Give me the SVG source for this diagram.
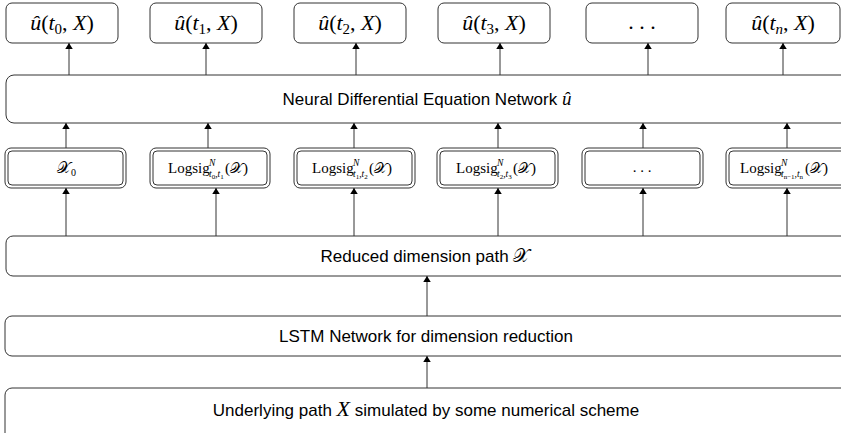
<svg xmlns="http://www.w3.org/2000/svg" width="841" height="433" viewBox="0 0 841 433">
  <style>
    .box { fill: #ffffff; stroke: #333333; stroke-width: 1; }
    .dbl { fill: #ffffff; stroke: #333333; stroke-width: 1; }
    .edge { stroke: #333333; stroke-width: 1; fill: none; marker-end: url(#arrow); }
    .lbl { font-family: "Liberation Sans", Arial, sans-serif; font-size: 17px; fill: #000000; text-anchor: middle; }
    .math { font-family: "Liberation Serif", "DejaVu Serif", serif; font-size: 22px; fill: #000000; text-anchor: middle; }
    .sig { font-family: "Liberation Serif", "DejaVu Serif", serif; font-size: 15px; fill: #000000; }
    .it { font-style: italic; }
    .sub { font-size: 15px; }
    .ss { font-size: 9.5px; font-style: italic; }
    .sss { font-size: 7px; }
    .cal { font-style: normal; }
  </style>
  <defs>
    <marker id="arrow" viewBox="0 0 8 10" refX="8" refY="5" markerWidth="6" markerHeight="7.5" orient="auto" markerUnits="userSpaceOnUse">
      <path d="M0,0 L8,5 L0,10 Z" fill="#000000"/>
    </marker>
  </defs>

  <!-- output layer -->
  <g id="out0"><rect class="box" x="6" y="3" width="112" height="40" rx="6"/>
    <text class="math" x="62" y="30"><tspan class="it">û</tspan>(<tspan class="it">t</tspan><tspan class="sub" dy="4">0</tspan><tspan dy="-4">, </tspan><tspan class="it">X</tspan>)</text></g>
  <g id="out1"><rect class="box" x="150" y="3" width="112" height="40" rx="6"/>
    <text class="math" x="206" y="30"><tspan class="it">û</tspan>(<tspan class="it">t</tspan><tspan class="sub" dy="4">1</tspan><tspan dy="-4">, </tspan><tspan class="it">X</tspan>)</text></g>
  <g id="out2"><rect class="box" x="294" y="3" width="112" height="40" rx="6"/>
    <text class="math" x="350" y="30"><tspan class="it">û</tspan>(<tspan class="it">t</tspan><tspan class="sub" dy="4">2</tspan><tspan dy="-4">, </tspan><tspan class="it">X</tspan>)</text></g>
  <g id="out3"><rect class="box" x="438" y="3" width="112" height="40" rx="6"/>
    <text class="math" x="494" y="30"><tspan class="it">û</tspan>(<tspan class="it">t</tspan><tspan class="sub" dy="4">3</tspan><tspan dy="-4">, </tspan><tspan class="it">X</tspan>)</text></g>
  <g id="out4"><rect class="box" x="586" y="3" width="112" height="40" rx="6"/>
    <text class="math" x="642" y="29">. . .</text></g>
  <g id="outn"><rect class="box" x="726" y="3" width="114" height="40" rx="6"/>
    <text class="math" x="783" y="30"><tspan class="it">û</tspan>(<tspan class="it">t</tspan><tspan class="sub it" dy="4">n</tspan><tspan dy="-4">, </tspan><tspan class="it">X</tspan>)</text></g>

  <!-- neural differential equation network -->
  <g id="nde"><rect class="box" x="6" y="75" width="845" height="48" rx="8"/>
    <text class="lbl" x="427" y="105">Neural Differential Equation Network <tspan font-family="Liberation Serif, serif" font-style="italic" font-size="19">û</tspan></text></g>

  <!-- log-signature layer -->
  <g id="sig0"><rect class="dbl" x="5" y="148" width="121" height="40" rx="6"/><rect class="dbl" x="8" y="151" width="115" height="34" rx="4"/>
    <text class="sig" x="57" y="173"><tspan class="cal" font-size="16">𝒳</tspan><tspan font-size="10" dy="3">0</tspan></text></g>
  <g id="sig1"><rect class="dbl" x="150" y="148" width="120" height="40" rx="6"/><rect class="dbl" x="153" y="151" width="114" height="34" rx="4"/>
    <text class="sig" x="168" y="173">Logsig<tspan class="ss" x="209" y="166">N</tspan><tspan class="ss" x="209" y="177">t</tspan><tspan class="sss" y="179">0</tspan><tspan class="ss" y="177">,t</tspan><tspan class="sss" y="179">1</tspan><tspan x="225" y="173">(</tspan><tspan class="cal">𝒳</tspan>)</text></g>
  <g id="sig2"><rect class="dbl" x="294" y="148" width="121" height="40" rx="6"/><rect class="dbl" x="297" y="151" width="115" height="34" rx="4"/>
    <text class="sig" x="312" y="173">Logsig<tspan class="ss" x="353" y="166">N</tspan><tspan class="ss" x="353" y="177">t</tspan><tspan class="sss" y="179">1</tspan><tspan class="ss" y="177">,t</tspan><tspan class="sss" y="179">2</tspan><tspan x="369" y="173">(</tspan><tspan class="cal">𝒳</tspan>)</text></g>
  <g id="sig3"><rect class="dbl" x="437" y="148" width="121" height="40" rx="6"/><rect class="dbl" x="440" y="151" width="115" height="34" rx="4"/>
    <text class="sig" x="456" y="173">Logsig<tspan class="ss" x="497" y="166">N</tspan><tspan class="ss" x="497" y="177">t</tspan><tspan class="sss" y="179">2</tspan><tspan class="ss" y="177">,t</tspan><tspan class="sss" y="179">3</tspan><tspan x="513" y="173">(</tspan><tspan class="cal">𝒳</tspan>)</text></g>
  <g id="sig4"><rect class="dbl" x="582" y="148" width="121" height="40" rx="6"/><rect class="dbl" x="585" y="151" width="115" height="34" rx="4"/>
    <text class="sig" x="642" y="172" text-anchor="middle">. . .</text></g>
  <g id="sign"><rect class="dbl" x="726" y="148" width="125" height="40" rx="6"/><rect class="dbl" x="729" y="151" width="119" height="34" rx="4"/>
    <text class="sig" x="740" y="173">Logsig<tspan class="ss" x="781" y="166">N</tspan><tspan class="ss" x="781" y="177">t</tspan><tspan class="sss" y="179">n−1</tspan><tspan class="ss" y="177">,t</tspan><tspan class="sss" y="179">n</tspan><tspan x="805" y="173">(</tspan><tspan class="cal">𝒳</tspan>)</text></g>

  <!-- reduced path, LSTM, underlying path -->
  <g id="reduced"><rect class="box" x="6" y="236" width="845" height="40" rx="7"/>
    <text class="lbl" x="425" y="262">Reduced dimension path <tspan font-family="Liberation Serif, serif" font-size="19">𝒳</tspan></text></g>
  <g id="lstm"><rect class="box" x="5" y="316" width="846" height="40" rx="7"/>
    <text class="lbl" x="426" y="342">LSTM Network for dimension reduction</text></g>
  <g id="underlying"><rect class="box" x="5" y="388" width="846" height="60" rx="7"/>
    <text class="lbl" x="426" y="416">Underlying path <tspan font-family="Liberation Serif, serif" font-style="italic" font-size="22">X</tspan> simulated by some numerical scheme</text></g>

  <!-- connectors -->
  <g id="edges">
    <line class="edge" x1="69" y1="75" x2="69" y2="43"/>
    <line class="edge" x1="206" y1="75" x2="206" y2="43"/>
    <line class="edge" x1="356" y1="75" x2="356" y2="43"/>
    <line class="edge" x1="500" y1="75" x2="500" y2="43"/>
    <line class="edge" x1="648" y1="75" x2="648" y2="43"/>
    <line class="edge" x1="783" y1="75" x2="783" y2="43"/>

    <line class="edge" x1="66" y1="148" x2="66" y2="123"/>
    <line class="edge" x1="208" y1="148" x2="208" y2="123"/>
    <line class="edge" x1="354" y1="148" x2="354" y2="123"/>
    <line class="edge" x1="498" y1="148" x2="498" y2="123"/>
    <line class="edge" x1="643" y1="148" x2="643" y2="123"/>
    <line class="edge" x1="787" y1="148" x2="787" y2="123"/>

    <line class="edge" x1="66" y1="236" x2="66" y2="188"/>
    <line class="edge" x1="216" y1="236" x2="216" y2="188"/>
    <line class="edge" x1="354" y1="236" x2="354" y2="188"/>
    <line class="edge" x1="498" y1="236" x2="498" y2="188"/>
    <line class="edge" x1="643" y1="236" x2="643" y2="188"/>
    <line class="edge" x1="787" y1="236" x2="787" y2="188"/>

    <line class="edge" x1="427" y1="316" x2="427" y2="276"/>
    <line class="edge" x1="427" y1="388" x2="427" y2="356"/>
  </g>
</svg>
